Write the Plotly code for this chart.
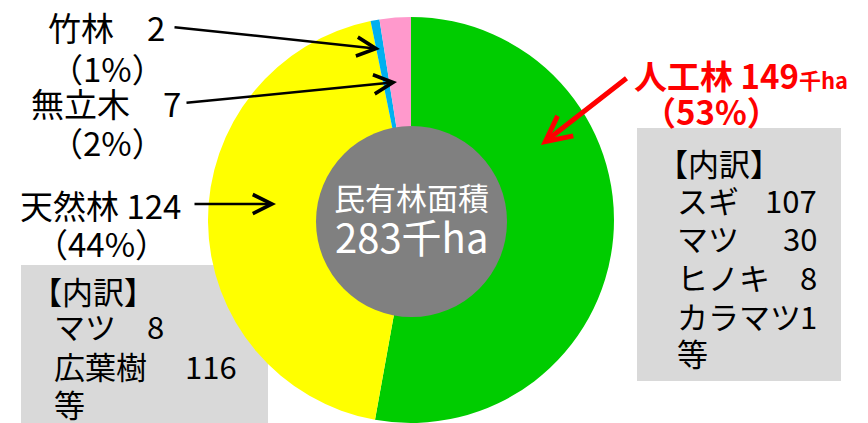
import plotly.graph_objects as go

# data
labels = ["人工林", "天然林", "竹林", "無立木"]
values = [149, 124, 2, 7]
shares = [53, 44, 1, 2]
colors = ["#00CC00", "#FFFF00", "#00B0F0", "#FF99CC"]
total = 283

planted_names = ["スギ", "マツ", "ヒノキ", "カラマツ"]
planted_values = [107, 30, 8, 1]
natural_names = ["マツ", "広葉樹"]
natural_values = [8, 116]

# the page body keeps its default 8px margin, so the figure is 8px smaller
OFF = 8
W, H = 868 - OFF, 423 - OFF
FONT = "Noto Sans CJK JP"


def X(px):
    return (px - OFF) / W


def Y(py):
    return 1 - (py - OFF) / H


fig = go.Figure(
    data=[
        go.Pie(
            labels=labels,
            values=values,
            marker=dict(colors=colors, line=dict(width=0)),
            sort=False,
            direction="clockwise",
            rotation=0,
            textinfo="none",
            hoverinfo="none",
            showlegend=False,
            domain=dict(x=[X(208), X(614)], y=[0, Y(17)]),
        )
    ]
)

shapes = [
    # gray centre
    dict(type="circle", xref="paper", yref="paper", layer="above",
         x0=X(316), x1=X(507), y0=Y(317), y1=Y(126),
         fillcolor="#808080", line=dict(width=0)),
    # breakdown boxes
    dict(type="rect", xref="paper", yref="paper", layer="below",
         x0=X(637), x1=X(841), y0=Y(381), y1=Y(128),
         fillcolor="#D9D9D9", line=dict(width=0)),
    dict(type="rect", xref="paper", yref="paper", layer="below",
         x0=X(21), x1=X(268), y0=Y(440), y1=Y(265),
         fillcolor="#D9D9D9", line=dict(width=0)),
]

ann = []


def txt(s, px, py, size=33, color="black", anchor="center", bold=False):
    if bold:
        s = "<b>" + s + "</b>"
    ann.append(dict(text=s, x=X(px), y=Y(py), xref="paper", yref="paper",
                    xanchor=anchor, yanchor="middle", showarrow=False,
                    font=dict(family=FONT, size=size, color=color)))


def arrow(tx, ty, hx, hy, color="black", width=2.5, size=1.5):
    ann.append(dict(text="", x=X(hx), y=Y(hy), xref="paper", yref="paper",
                    ax=tx - hx, ay=ty - hy, showarrow=True, arrowhead=5,
                    arrowsize=size, arrowwidth=width, arrowcolor=color))


# centre
txt("民有林面積", 411, 196, size=31, color="white")
txt(f"{total}千ha", 411, 236, size=40, color="white")

# planted forest (red)
txt(f"{labels[0]} {values[0]}<span style='font-size:22px'>千ha</span>", 632, 75,
    size=33, color="#FF0000", anchor="left", bold=True)
txt(f"（{shares[0]}%）", 711, 111, size=33, color="#FF0000", bold=True)
arrow(628, 77, 541, 145, color="#FF0000", width=5, size=1.0)

# left labels
txt(f"{labels[2]}　{values[2]}", 106, 27)
txt(f"（{shares[2]}%）", 107, 68)
arrow(173, 27, 380, 49)
txt(f"{labels[3]}　{values[3]}", 106, 103)
txt(f"（{shares[3]}%）", 107, 142)
arrow(185, 103, 397, 82)
txt(f"{labels[1]} {values[1]}", 100, 205)
txt(f"（{shares[1]}%）", 101, 243)
arrow(193, 204, 276, 204)

# right breakdown
txt("【内訳】", 655, 162, size=31, anchor="left")
rows_y = [199, 237, 276, 315]
for name, v, yy in zip(planted_names, planted_values, rows_y):
    txt(name, 675, yy, size=31, anchor="left")
    txt(str(v), 819, yy, size=31, anchor="right")
txt("等", 675, 352, size=31, anchor="left")

# left breakdown
txt("【内訳】", 29, 290, size=31, anchor="left")
txt(natural_names[0], 52, 325, size=31, anchor="left")
txt(str(natural_values[0]), 145, 325, size=31, anchor="left")
txt(natural_names[1], 52, 365, size=31, anchor="left")
txt(str(natural_values[1]), 183, 365, size=31, anchor="left")
txt("等", 52, 403, size=31, anchor="left")

fig.update_layout(
    width=W,
    height=H,
    margin=dict(l=0, r=0, t=0, b=0),
    paper_bgcolor="white",
    plot_bgcolor="white",
    shapes=shapes,
    annotations=ann,
)

fig.write_html("out.html")
